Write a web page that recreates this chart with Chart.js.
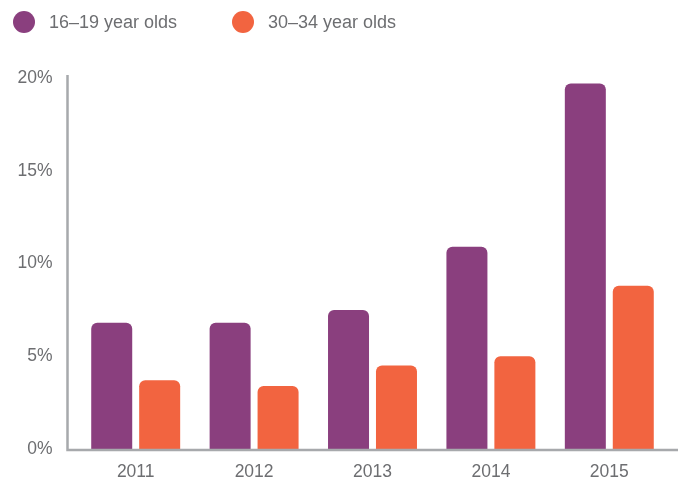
<!DOCTYPE html>
<html>
<head>
<meta charset="utf-8">
<script src="https://cdn.jsdelivr.net/npm/chart.js@4/dist/chart.umd.min.js"></script>
<style>
  html, body { margin: 0; padding: 0; background: #fff; }
  #wrap { position: relative; width: 683px; height: 480px; }
  #wrap canvas { display: block; }
  #legend { position: absolute; left: 0; top: 0; height: 44px; width: 683px; font-family: "Liberation Sans", Arial, sans-serif; font-size: 18px; color: #6d6e71; }
  .item { position: absolute; top: 11px; height: 22px; line-height: 22px; white-space: nowrap; }
  .dot { position: absolute; left: 0; top: 0; width: 22px; height: 22px; border-radius: 50%; }
  .lbl { position: absolute; left: 36px; top: 0; }
</style>
</head>
<body>
<div id="wrap">
  <canvas id="myChart" width="683" height="480"></canvas>
  <div id="legend"></div>
</div>
<script>
// data
let years=["2011","2012","2013","2014","2015"];
let seriesNames=["16–19 year olds","30–34 year olds"];
let teens=[6.8,6.8,7.5,10.9,19.7];
let thirties=[3.7,3.4,4.5,5.0,8.8];
let yTicks=[0,5,10,15,20];

let purple="#8a3f7e";
let orange="#f26440";
let textGray="#6d6e71";
let axisGray="#a7a9ac";

// html legend
let legend=document.querySelector('#legend');
let legendX=[13,232];
[purple,orange].forEach((c,i)=>{
    let item=document.createElement('div');
    item.className='item';
    item.style.left=legendX[i]+'px';
    item.innerHTML='<span class="dot" style="background:'+c+'"></span><span class="lbl">'+seriesNames[i]+'</span>';
    legend.appendChild(item);
})

// axis lines drawn a bit wider than the plot area
const axisLines={
    id:'axisLines',
    afterDatasetsDraw(chart){
        const {ctx,chartArea}=chart;
        ctx.save();
        ctx.strokeStyle=axisGray;
        ctx.lineWidth=2.5;
        ctx.beginPath();
        ctx.moveTo(chartArea.left-9,chartArea.top-3);
        ctx.lineTo(chartArea.left-9,chartArea.bottom+1);
        ctx.lineTo(chartArea.right+9.5,chartArea.bottom+1);
        ctx.stroke();
        ctx.restore();
    }
};

const radius={topLeft:6,topRight:6,bottomLeft:0,bottomRight:0};

new Chart("myChart",{
    type:"bar",
    data:{
        labels:years,
        datasets:[
            {label:seriesNames[0],data:teens,backgroundColor:purple,borderRadius:radius,borderSkipped:false},
            {label:seriesNames[1],data:thirties,backgroundColor:orange,borderRadius:radius,borderSkipped:false}
        ]
    },
    options:{
        responsive:false,
        animation:false,
        layout:{padding:{top:78,right:14.5,bottom:0,left:0}},
        categoryPercentage:0.81,
        barPercentage:0.855,
        plugins:{
            legend:{display:false},
            tooltip:{enabled:false}
        },
        scales:{
            x:{
                grid:{display:false,drawTicks:false},
                border:{display:false},
                ticks:{
                    color:textGray,
                    font:{family:"Liberation Sans",size:17.5},
                    padding:13
                },
                afterFit:(s)=>{ s.height=31; s.paddingLeft=0; s.paddingRight=0; }
            },
            y:{
                min:0,
                max:20,
                afterBuildTicks:(s)=>{ s.ticks=yTicks.map(v=>({value:v})); },
                grid:{display:false,drawTicks:false},
                border:{display:false},
                ticks:{
                    color:textGray,
                    font:{family:"Liberation Sans",size:17.5},
                    padding:24,
                    callback:(v)=>v+"%"
                },
                afterFit:(s)=>{ s.width=76.5; s.paddingTop=0; s.paddingBottom=0; }
            }
        }
    },
    plugins:[axisLines]
});
</script>
</body>
</html>
